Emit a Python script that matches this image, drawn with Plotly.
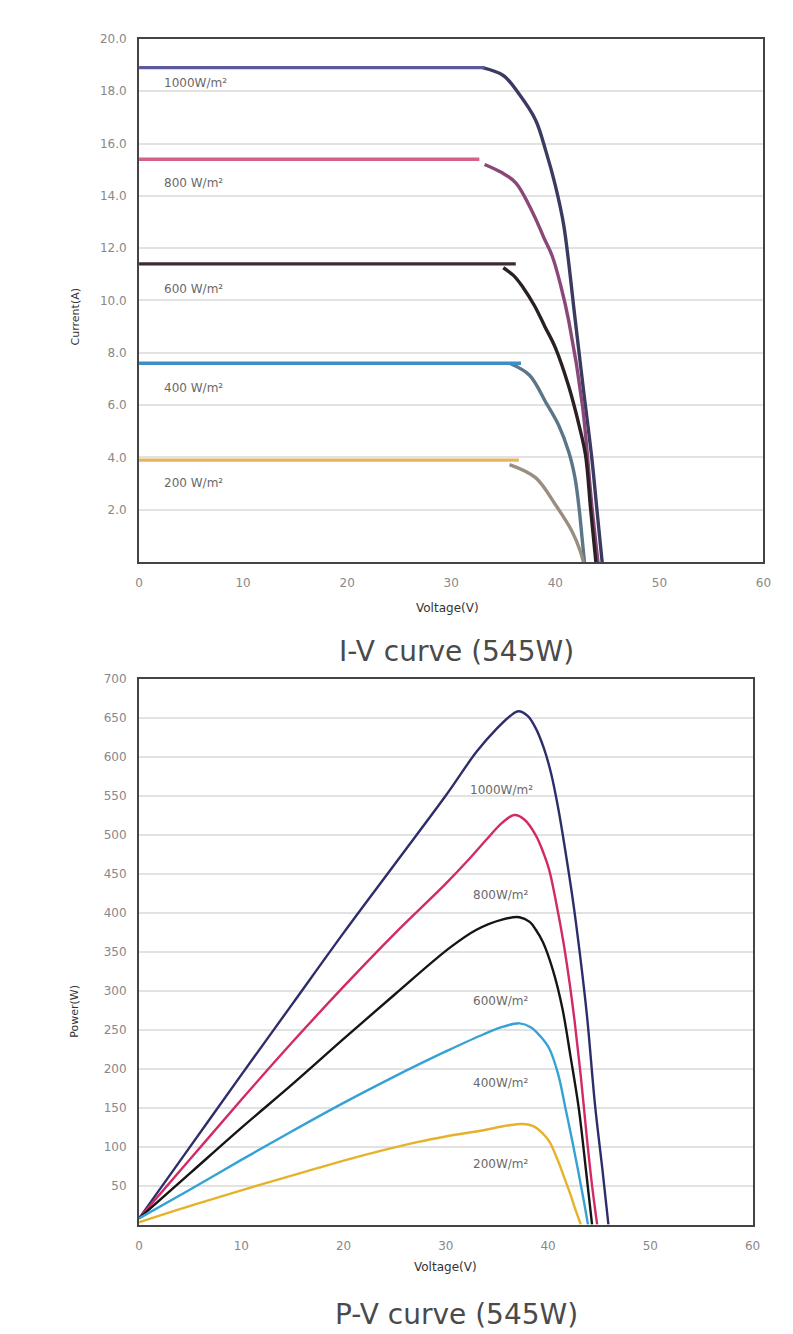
import plotly.graph_objects as go

W, H = 793, 1334
OFF = 8  # page body margin

# ---------------- I-V data ----------------
iv_labels = ["1000W/m²", "800 W/m²", "600 W/m²", "400 W/m²", "200 W/m²"]

# flat (short-circuit) segments: end voltage and current
iv_flat_end_v = [33.2, 32.7, 36.2, 36.7, 36.5]
iv_isc = [18.9, 15.4, 11.4, 7.6, 3.9]

# knee / fall-off curves
iv_v_1000 = [33.0, 35.0, 36.5, 38.1, 39.1, 40.0, 40.8, 41.9, 42.7, 43.5, 44.0, 44.5]
iv_i_1000 = [18.9, 18.6, 17.9, 16.9, 15.7, 14.4, 12.9, 9.3, 6.6, 4.0, 2.0, 0.0]

iv_v_800 = [33.2, 34.8, 36.2, 37.9, 38.9, 39.7, 40.5, 41.3, 42.6, 43.5, 44.1]
iv_i_800 = [15.2, 14.9, 14.5, 13.3, 12.4, 11.7, 10.6, 9.2, 6.0, 2.2, 0.0]

iv_v_600 = [35.0, 36.0, 36.9, 38.0, 39.0, 40.0, 41.3, 42.3, 42.9, 43.4, 43.9]
iv_i_600 = [11.25, 10.95, 10.5, 9.8, 9.0, 8.2, 6.7, 5.2, 4.1, 2.0, 0.0]

iv_v_400 = [35.6, 37.5, 39.1, 40.3, 41.3, 41.9, 42.3, 42.6, 42.8]
iv_i_400 = [7.6, 7.15, 6.1, 5.25, 4.2, 3.2, 2.0, 0.8, 0.0]

iv_v_200 = [35.6, 38.1, 40.0, 41.6, 42.4, 42.7]
iv_i_200 = [3.73, 3.23, 2.2, 1.18, 0.42, 0.0]

iv_label_v = [2.2, 2.2, 2.2, 2.2, 2.2]
iv_label_i = [18.3, 14.5, 10.45, 6.65, 3.04]

# ---------------- P-V data ----------------
pv_v_1000 = [0, 5, 10, 15, 20, 25, 30, 33, 35, 36.3, 37.1, 38.0, 38.8, 39.6, 40.3, 41.0, 41.7, 42.4, 43.1, 43.8, 44.6, 45.3, 45.9]
pv_p_1000 = [8, 100, 192, 283, 374, 462, 550, 606, 636, 652, 658, 652, 636, 610, 578, 533, 478, 418, 348, 268, 152, 72, 0]

pv_v_800 = [0, 5, 10, 15, 20, 25, 30, 32.1, 34.0, 35.5, 36.7, 37.7, 38.8, 39.5, 40.1, 40.8, 41.5, 42.1, 42.6, 43.2, 43.8, 44.3, 44.8]
pv_p_800 = [8, 84, 160, 234, 305, 373, 437, 466, 494, 515, 525, 519, 499, 478, 455, 412, 362, 310, 260, 190, 110, 50, 0]

pv_v_600 = [0, 5, 10, 15, 20, 25, 30.4, 33.0, 35.5, 37.2, 38.2, 38.8, 39.5, 40.5, 41.4, 42.2, 43.0, 43.7, 44.3]
pv_p_600 = [8, 66, 124, 180, 238, 295, 355, 378, 391, 394, 388, 378, 362, 325, 277, 215, 149, 70, 0]

pv_v_400 = [0, 5, 10, 15, 20, 25, 27.3, 30, 33.7, 35.7, 37.2, 38.3, 39.2, 40.1, 41.0, 41.7, 42.4, 43.0, 43.5, 43.9]
pv_p_400 = [8, 45, 83, 120, 156, 190, 205, 222, 244, 254, 258, 253, 242, 226, 192, 149, 105, 65, 30, 0]

pv_v_200 = [0, 5, 10, 15, 17.6, 22, 27.3, 30, 33.7, 36, 37.6, 38.6, 39.4, 40.1, 40.9, 41.7, 42.2, 42.6, 43.2]
pv_p_200 = [3, 24, 44, 63, 73, 89, 106, 113, 121, 127, 129, 126, 118, 107, 84, 56, 38, 22, 0]

pv_labels = ["1000W/m²", "800W/m²", "600W/m²", "400W/m²", "200W/m²"]
pv_label_v = [35.4, 35.4, 35.4, 35.4, 35.4]
pv_label_p = [557, 423, 287, 182, 78]

# tick labels
x_ticks = [0, 10, 20, 30, 40, 50, 60]
x_ticktext = ["0", "10", "20", "30", "40", "50", "60"]
iv_y_ticks = [2, 4, 6, 8, 10, 12, 14, 16, 18, 20]
iv_y_ticktext = ["2.0", "4.0", "6.0", "8.0", "10.0", "12.0", "14.0", "16.0", "18.0", "20.0"]
pv_y_ticks = [50, 100, 150, 200, 250, 300, 350, 400, 450, 500, 550, 600, 650, 700]
pv_y_ticktext = [str(v) for v in pv_y_ticks]

# ---------------- styles ----------------
iv_flat_colors = ["#5b5b99", "#d4608e", "#3d2b30", "#3a90c4", "#e8b45a"]
iv_curve_colors = ["#3b3b62", "#8a4878", "#2a2024", "#5a7688", "#9a8e80"]
pv_colors = ["#2d2d6b", "#d22a68", "#151515", "#36a2d4", "#e6b22a"]

iv_curves = [(iv_v_1000, iv_i_1000), (iv_v_800, iv_i_800), (iv_v_600, iv_i_600),
             (iv_v_400, iv_i_400), (iv_v_200, iv_i_200)]
pv_sets = [(pv_v_1000, pv_p_1000), (pv_v_800, pv_p_800), (pv_v_600, pv_p_600),
           (pv_v_400, pv_p_400), (pv_v_200, pv_p_200)]

fig = go.Figure()

for k, (v, c) in enumerate(iv_curves):
    fig.add_trace(go.Scatter(x=v, y=c, mode="lines", xaxis="x", yaxis="y",
                             line=dict(color=iv_curve_colors[k], width=3.4, shape="spline", smoothing=1.0),
                             showlegend=False, hoverinfo="skip"))
    fig.add_trace(go.Scatter(x=[0, iv_flat_end_v[k]], y=[iv_isc[k], iv_isc[k]], mode="lines",
                             xaxis="x", yaxis="y",
                             line=dict(color=iv_flat_colors[k], width=3.4),
                             showlegend=False, hoverinfo="skip"))

for k, (v, p) in enumerate(pv_sets):
    fig.add_trace(go.Scatter(x=v, y=p, mode="lines", xaxis="x2", yaxis="y2",
                             line=dict(color=pv_colors[k], width=2.4, shape="spline", smoothing=1.0),
                             showlegend=False, hoverinfo="skip"))

tickfont = dict(family="DejaVu Sans, sans-serif", size=12, color="#888888")


def px_x(p):
    return (p - OFF) / W


def px_y(p):
    return 1 - (p - OFF) / H


axis_common = dict(showline=True, linecolor="#444", linewidth=2, mirror=True,
                   ticks="", tickfont=tickfont, zeroline=False)

fig.update_layout(
    width=W, height=H,
    margin=dict(l=0, r=0, t=0, b=0),
    paper_bgcolor="white", plot_bgcolor="white",
    showlegend=False,
    xaxis=dict(domain=[px_x(137), px_x(771)], anchor="y", range=[0, 60],
               tickvals=x_ticks, ticktext=x_ticktext, showgrid=False,
               ticklabelstandoff=8, **axis_common),
    yaxis=dict(domain=[px_y(558), px_y(32)], anchor="x", range=[0, 20],
               tickvals=iv_y_ticks, ticktext=iv_y_ticktext, showgrid=True,
               gridcolor="#e2e2e2", gridwidth=1.5, ticklabelstandoff=8, **axis_common),
    xaxis2=dict(domain=[px_x(137), px_x(760)], anchor="y2", range=[0, 60],
                tickvals=x_ticks, ticktext=x_ticktext, showgrid=False,
                ticklabelstandoff=9, **axis_common),
    yaxis2=dict(domain=[px_y(1224), px_y(675)], anchor="x2", range=[0, 700],
                tickvals=pv_y_ticks, ticktext=pv_y_ticktext, showgrid=True,
                gridcolor="#e2e2e2", gridwidth=1.5, ticklabelstandoff=8, **axis_common),
)

ann = []
lblfont = dict(family="DejaVu Sans, sans-serif", size=12, color="#6a6a6a")
for t, xv, yv in zip(iv_labels, iv_label_v, iv_label_i):
    ann.append(dict(text=t, x=xv, y=yv, xref="x", yref="y", showarrow=False,
                    xanchor="left", yanchor="middle", font=lblfont))
for t, xv, yv in zip(pv_labels, pv_label_v, pv_label_p):
    ann.append(dict(text=t, x=xv, y=yv, xref="x2", yref="y2", showarrow=False,
                    xanchor="center", yanchor="middle", font=lblfont))

axfont = dict(family="DejaVu Sans, sans-serif", size=12, color="#333")
axfont_v = dict(family="DejaVu Sans, sans-serif", size=11, color="#333")


def paper_text(text, x, y, font, angle=0):
    return dict(text=text, x=px_x(x), y=px_y(y), xref="paper", yref="paper",
                xanchor="center", yanchor="middle", showarrow=False,
                textangle=angle, font=font)


ann += [
    paper_text("Current(A)", 72, 312, axfont_v, -90),
    paper_text("Voltage(V)", 450, 604, axfont),
    paper_text("Power(W)", 72, 1010, axfont_v, -90),
    paper_text("Voltage(V)", 448, 1267, axfont),
]
titlefont = dict(family="DejaVu Sans, sans-serif", size=28, color="#4a4a4a")
ann += [
    paper_text("I-V curve (545W)", 459, 648, titlefont),
    paper_text("P-V curve (545W)", 459, 1314, titlefont),
]
fig.update_layout(annotations=ann)

fig.write_html("out.html")
